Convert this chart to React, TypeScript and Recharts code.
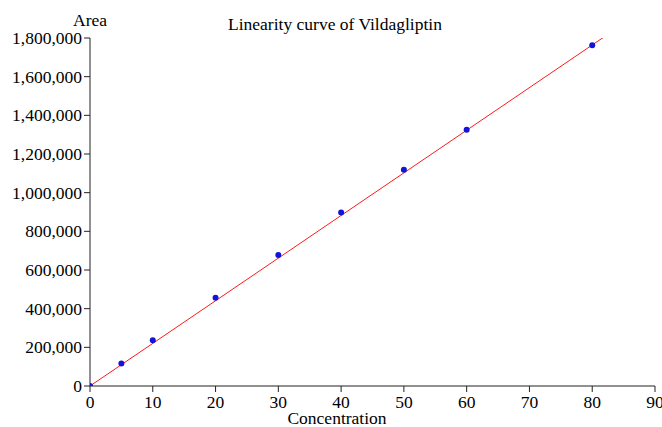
import React from 'react';
import { ScatterChart, Scatter, XAxis, YAxis } from 'recharts';

const concentrations = [0, 5, 10, 20, 30, 40, 50, 60, 80];
const areas = [0, 116000, 236000, 457000, 677000, 897000, 1119000, 1326000, 1762000];
const fitX = [0, 82];
const fitY = [0, 1808000];
const xTicks = [0, 10, 20, 30, 40, 50, 60, 70, 80, 90];
const yTicks = [0, 200000, 400000, 600000, 800000, 1000000, 1200000, 1400000, 1600000, 1800000];

const points = concentrations.map((x, i) => ({ x, y: areas[i] }));
const fitLine = fitX.map((x, i) => ({ x, y: fitY[i] }));

const FONT = '"Liberation Serif", "Times New Roman", serif';

const XTick = (props: any) => {
  const { x, y, payload } = props;
  return (
    <text x={x} y={y + 14} textAnchor="middle" fill="#000" fontSize={17.5} fontFamily={FONT}>
      {payload.value}
    </text>
  );
};

const YTick = (props: any) => {
  const { x, y, payload } = props;
  return (
    <text x={x} y={y + 6} textAnchor="end" fill="#000" fontSize={17.5} fontFamily={FONT}>
      {Number(payload.value).toLocaleString('en-US')}
    </text>
  );
};

const Dot = (props: any) => {
  const { cx, cy } = props;
  if (cx == null || cy == null) return null;
  return <circle cx={cx} cy={cy} r={3} fill="#1414d8" />;
};

const NoShape = () => null;

export default function App() {
  return (
    <div style={{ position: 'absolute', left: 0, top: 0, width: 662, height: 427, background: '#fff', fontFamily: FONT }}>
      <ScatterChart width={662} height={427} margin={{ top: 38, right: 7, bottom: 0, left: 0 }} style={{ fontFamily: FONT }}>
        <XAxis
          type="number"
          dataKey="x"
          domain={[0, 90]}
          ticks={xTicks}
          interval={0}
          height={41}
          tick={<XTick />}
          tickSize={6}
          stroke="#222"
          allowDataOverflow
        />
        <YAxis
          type="number"
          dataKey="y"
          domain={[0, 1800000]}
          ticks={yTicks}
          interval={0}
          width={90}
          tick={<YTick />}
          tickSize={6}
          stroke="#222"
          allowDataOverflow
        />
        <Scatter data={fitLine} line={{ stroke: '#ff1a1a', strokeWidth: 1 }} shape={NoShape} isAnimationActive={false} />
        <Scatter data={points} shape={Dot} isAnimationActive={false} />
      </ScatterChart>
      <div style={{ position: 'absolute', left: 0, width: 662, top: 14, textAlign: 'center', fontSize: 17.5, lineHeight: '20px', color: '#000', paddingLeft: 8, boxSizing: 'border-box' }}>
        Linearity curve of Vildagliptin
      </div>
      <div style={{ position: 'absolute', left: 73, top: 10, fontSize: 17.5, lineHeight: '20px', color: '#000' }}>Area</div>
      <div style={{ position: 'absolute', left: 0, width: 674, top: 408, textAlign: 'center', fontSize: 17.5, lineHeight: '20px', color: '#000' }}>Concentration</div>
    </div>
  );
}
